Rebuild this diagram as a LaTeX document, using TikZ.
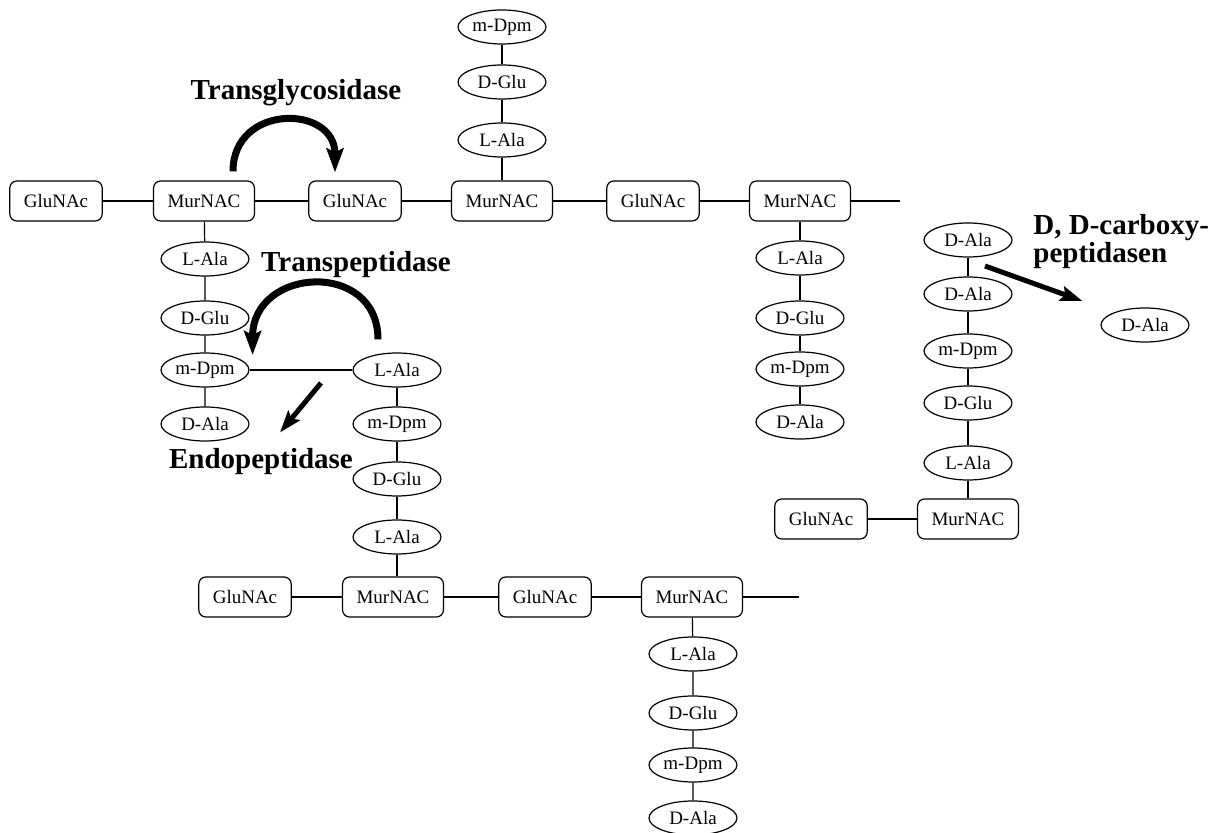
\documentclass[tikz,border=0pt]{standalone}
\usepackage{fontspec}
\setmainfont{Liberation Serif}
\usetikzlibrary{shapes.geometric}
\usetikzlibrary{arrows.meta}

\begin{document}
\begin{tikzpicture} [
          x=0.5pt, y=-0.5pt,
          sugar/.style = {draw, line width=0.6pt, rounded corners=3.5pt, minimum height=20pt, inner xsep=7pt, font=\fontsize{9.5}{11}\selectfont},
          amino/.style = {draw, line width=0.6pt, ellipse, minimum width=44pt, minimum height=17pt, inner sep=0pt, font=\fontsize{9.5}{11}\selectfont},
          enzyme/.style = {font=\bfseries\fontsize{14.5}{14}\selectfont, align=left, inner sep=0pt},
          bond/.style = {line width=0.6pt},
          action/.style = {line width=3.5pt, -{Stealth[length=12pt, width=8.5pt, inset=2pt]}},
          cut/.style = {line width=2.5pt, -{Stealth[length=11pt, width=7.5pt, inset=2pt]}}
          ]
          \useasboundingbox (0,0) rectangle (1217,833);

          \node[sugar] (g1) at (56,201) {GluNAc};
          \node[sugar] (m1) at (204,201) {MurNAC};
          \node[sugar] (g2) at (355,201) {GluNAc};
          \node[sugar] (m2) at (502,201) {MurNAC};
          \node[sugar] (g3) at (653,201) {GluNAc};
          \node[sugar] (m3) at (800,201) {MurNAC};
          \coordinate (topend) at (900,201);

          \node[sugar] (g4) at (245,597) {GluNAc};
          \node[sugar] (m4) at (393,597) {MurNAC};
          \node[sugar] (g5) at (545,597) {GluNAc};
          \node[sugar] (m5) at (692,597) {MurNAC};
          \coordinate (botend) at (799,597);

          \node[sugar] (g6) at (821,519) {GluNAc};
          \node[sugar] (m6) at (968,519) {MurNAC};

          \foreach \name/\y/\txt in {t1/140/L-Ala, t2/82/D-Glu, t3/27/m-Dpm}
            \node[amino] (\name) at (502,\y) {\txt};
          \foreach \name/\y/\txt in {a1/259/L-Ala, a2/318/D-Glu, a3/370/m-Dpm, a4/424/D-Ala}
            \node[amino] (\name) at (205,\y) {\txt};
          \foreach \name/\y/\txt in {c1/370/L-Ala, c2/424/m-Dpm, c3/479/D-Glu, c4/537/L-Ala}
            \node[amino] (\name) at (397,\y) {\txt};
          \foreach \name/\y/\txt in {b1/258/L-Ala, b2/318/D-Glu, b3/369/m-Dpm, b4/422/D-Ala}
            \node[amino] (\name) at (800,\y) {\txt};
          \foreach \name/\y/\txt in {r1/240/D-Ala, r2/294/D-Ala, r3/351/m-Dpm, r4/403/D-Glu, r5/463/L-Ala}
            \node[amino] (\name) at (968,\y) {\txt};
          \foreach \name/\y/\txt in {d1/654/L-Ala, d2/713/D-Glu, d3/765/m-Dpm, d4/818/D-Ala}
            \node[amino] (\name) at (693,\y) {\txt};
          \node[amino] (free) at (1145,325) {D-Ala};

          \draw[bond] (g1) -- (m1) -- (g2) -- (m2) -- (g3) -- (m3) -- (topend);
          \draw[bond] (g4) -- (m4) -- (g5) -- (m5) -- (botend);
          \draw[bond] (g6) -- (m6);
          \draw[bond] (m2) -- (t1) -- (t2) -- (t3);
          \draw[bond] (m1) -- (a1) -- (a2) -- (a3) -- (a4);
          \draw[bond] (a3) -- (c1) -- (c2) -- (c3) -- (c4) -- (c4 |- m4.north);
          \draw[bond] (m3) -- (b1) -- (b2) -- (b3) -- (b4);
          \draw[bond] (m6) -- (r5) -- (r4) -- (r3) -- (r2) -- (r1);
          \draw[bond] (m5) -- (d1) -- (d2) -- (d3) -- (d4);

          \node[enzyme] (glyco) at (296,93) {Transglycosidase};
          \node[enzyme] (pept) at (356,265) {Transpeptidase};
          \node[enzyme] (endo) at (261,462) {Endopeptidase};
          \node[enzyme, anchor=north west] (carboxy) at (1033,214) {D, D-carboxy-\\peptidasen};

          \draw[action] ([xshift=14.5pt,yshift=4.5pt]m1.north) .. controls +(0,34pt) and +(0,34pt) .. ([xshift=-10pt,yshift=4pt]g2.north);
          \draw[action] ([xshift=-9.5pt,yshift=6.5pt]c1.north) .. controls +(0,40pt) and +(0,44pt) .. ([xshift=1.5pt,yshift=7.5pt]a3.east);
          \coordinate (split) at (321,383);
          \draw[cut] (split) -- ([xshift=9.5pt,yshift=8pt]endo.north);
          \coordinate (cleave) at (985,266);
          \draw[cut] (cleave) -- ([xshift=-9pt,yshift=12pt]free.west);
        \end{tikzpicture}
\end{document}
